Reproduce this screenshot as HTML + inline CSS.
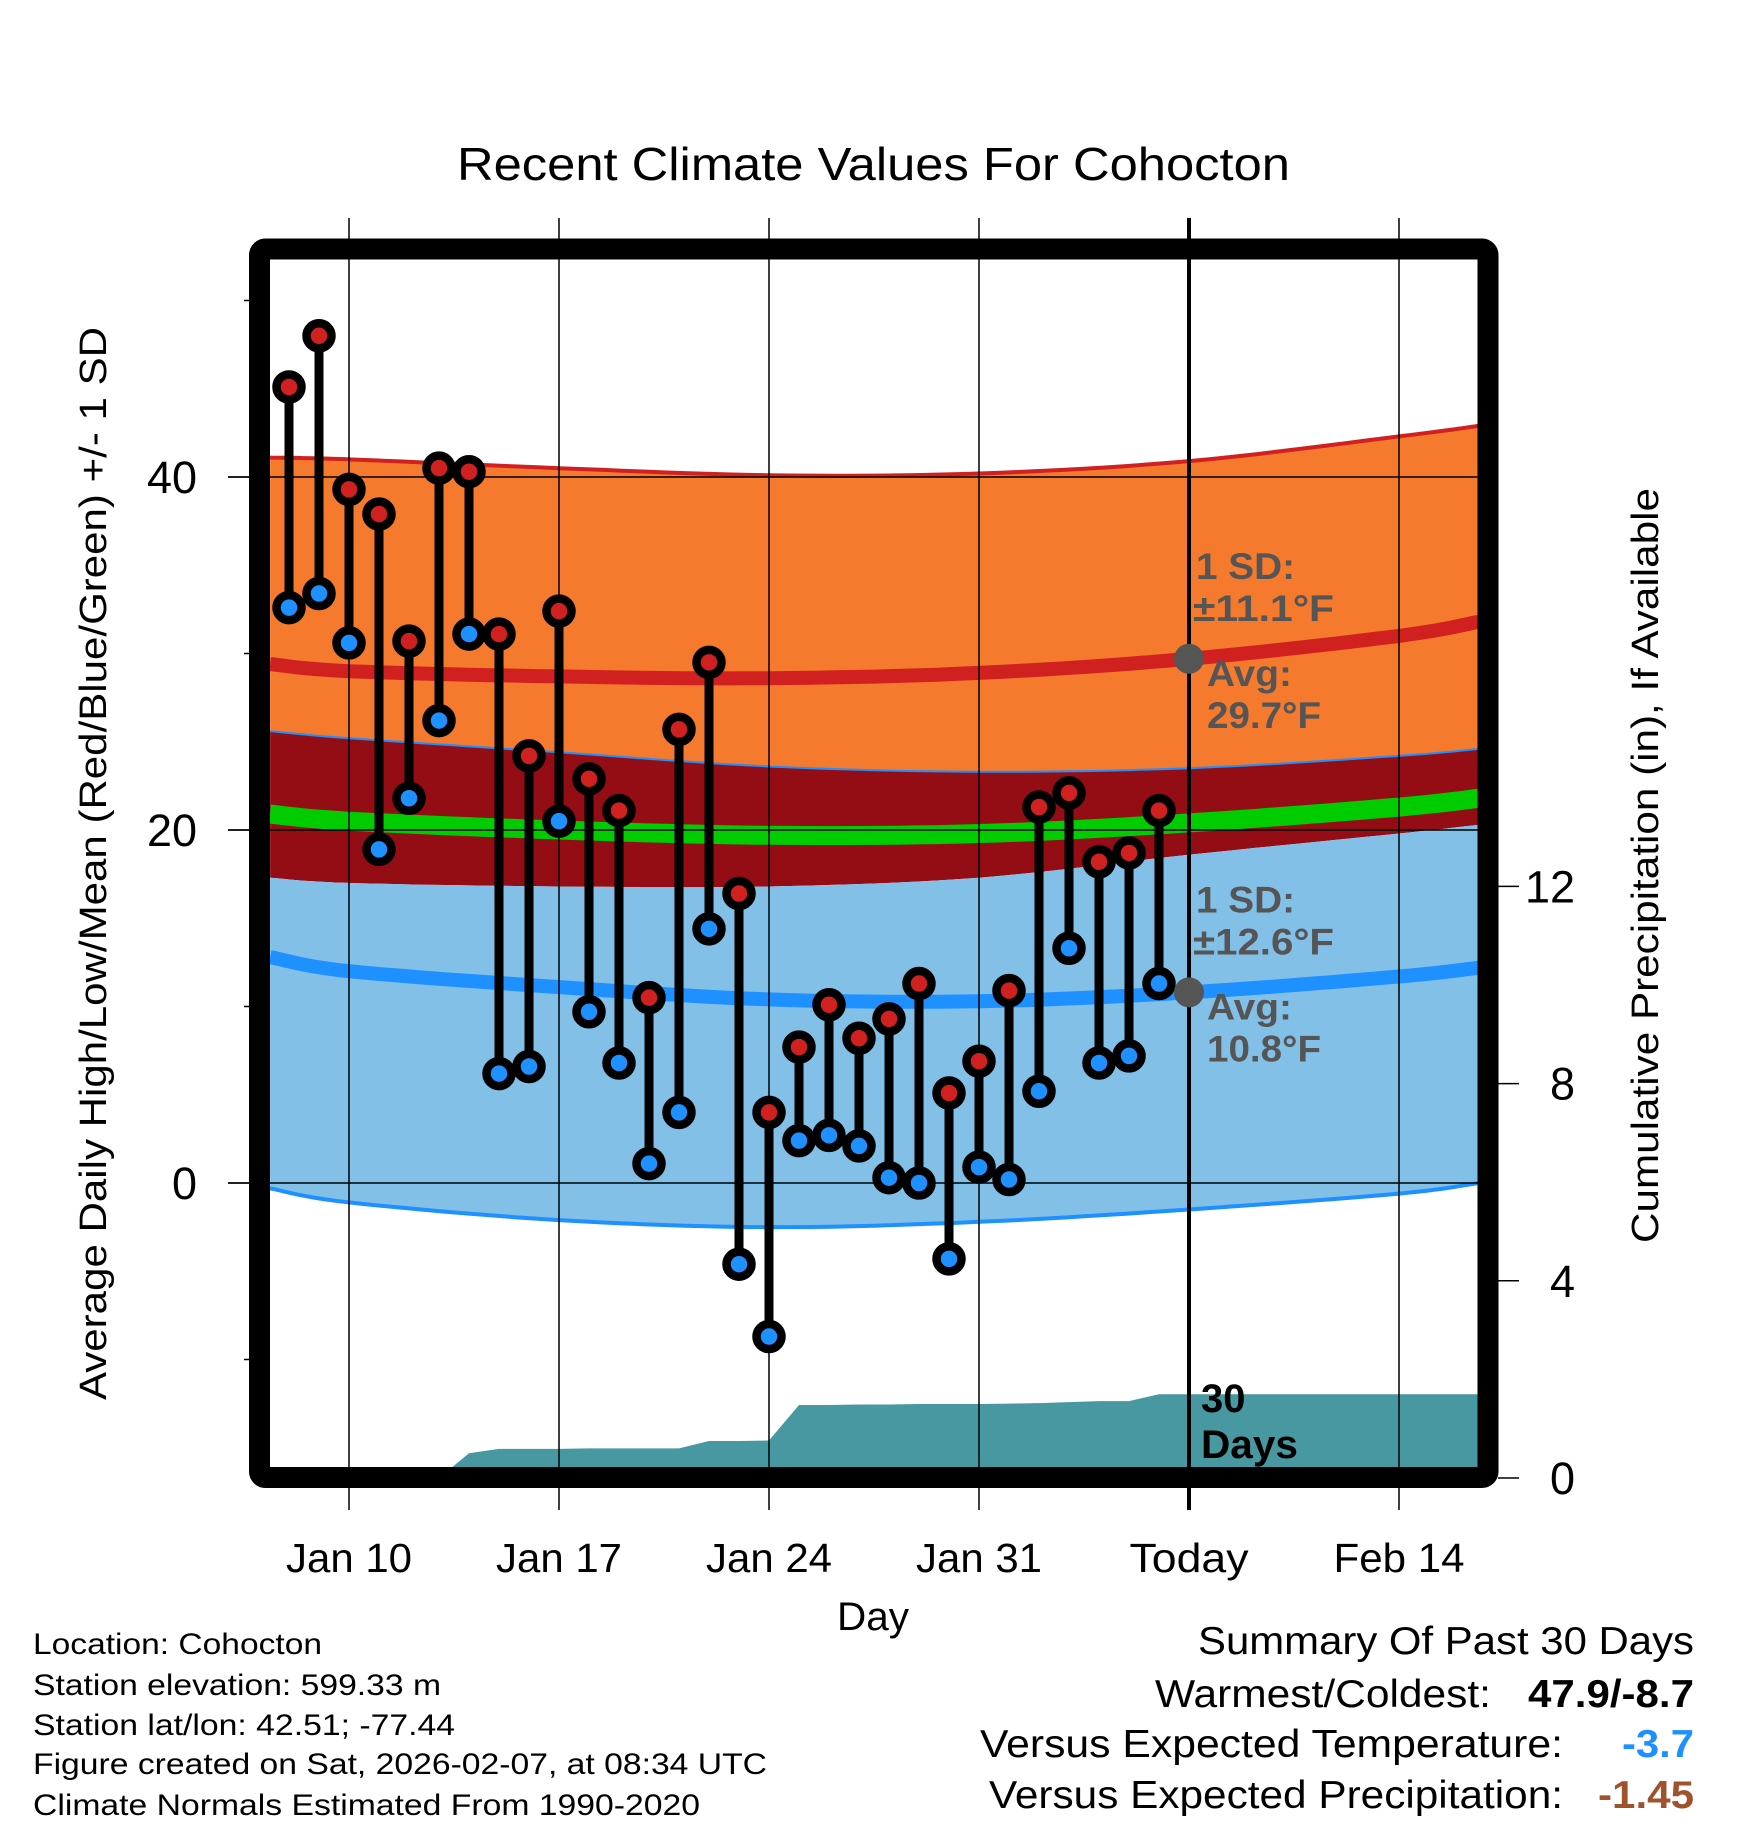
<!DOCTYPE html>
<html><head><meta charset="utf-8"><style>
html,body{margin:0;padding:0;background:#fff}
svg{display:block}
text{font-family:"Liberation Sans",Arial,sans-serif}
</style></head><body>
<svg id="chart" xmlns="http://www.w3.org/2000/svg" width="1748" height="1828" viewBox="0 0 1748 1828">
<defs><clipPath id="plotclip"><rect x="270" y="260" width="1208" height="1207"/></clipPath></defs>
<text x="457" y="180" font-size="46" textLength="833" lengthAdjust="spacingAndGlyphs">Recent Climate Values For Cohocton</text>
<g id="plot" clip-path="url(#plotclip)"></g>
<g id="overlay"></g>
<rect x="259.5" y="249" width="1228.5" height="1228.5" rx="6" fill="none" stroke="#000" stroke-width="21"/>
<g id="axes"></g>
<text transform="translate(106,1400) rotate(-90)" font-size="38" textLength="1073" lengthAdjust="spacingAndGlyphs">Average Daily High/Low/Mean (Red/Blue/Green) +/- 1 SD</text>
<text transform="translate(1658,1243) rotate(-90)" font-size="38" textLength="755" lengthAdjust="spacingAndGlyphs">Cumulative Precipitation (in), If Available</text>
<text x="837" y="1630" font-size="40" textLength="72" lengthAdjust="spacingAndGlyphs">Day</text>
<g font-size="30">
<text x="33" y="1654" textLength="289" lengthAdjust="spacingAndGlyphs">Location: Cohocton</text>
<text x="33" y="1695" textLength="408" lengthAdjust="spacingAndGlyphs">Station elevation: 599.33 m</text>
<text x="33" y="1735" textLength="422" lengthAdjust="spacingAndGlyphs">Station lat/lon: 42.51; -77.44</text>
<text x="33" y="1774" textLength="734" lengthAdjust="spacingAndGlyphs">Figure created on Sat, 2026-02-07, at 08:34 UTC</text>
<text x="33" y="1815" textLength="667" lengthAdjust="spacingAndGlyphs">Climate Normals Estimated From 1990-2020</text>
</g>
<g font-size="39">
<text x="1198" y="1654" textLength="496" lengthAdjust="spacingAndGlyphs">Summary Of Past 30 Days</text>
<text x="1155" y="1707" textLength="336" lengthAdjust="spacingAndGlyphs">Warmest/Coldest:</text>
<text x="1528" y="1707" font-weight="bold" textLength="166" lengthAdjust="spacingAndGlyphs">47.9/-8.7</text>
<text x="980" y="1757" textLength="583" lengthAdjust="spacingAndGlyphs">Versus Expected Temperature:</text>
<text x="1622" y="1757" font-weight="bold" fill="#1e90ff" textLength="72" lengthAdjust="spacingAndGlyphs">-3.7</text>
<text x="989" y="1808" textLength="574" lengthAdjust="spacingAndGlyphs">Versus Expected Precipitation:</text>
<text x="1598" y="1808" font-weight="bold" fill="#a0522d" textLength="96" lengthAdjust="spacingAndGlyphs">-1.45</text>
</g>
</svg>
<script>
// day offsets relative to Jan 10
const normDays=[-2.63,0,7,14,21,28,35,37.67];
const hiUpper=[41.1,41.0,40.5,40.1,40.2,40.9,42.3,42.9];
const hiMean=[29.4,29.0,28.7,28.6,28.9,29.7,31.0,31.8];
const orangeLower=[25.6,25.2,24.4,23.6,23.3,23.5,24.2,24.6];
const greenMean=[20.9,20.5,20.0,19.7,19.8,20.4,21.3,21.8];
const loUpper=[17.3,17.0,16.8,16.8,17.3,18.6,19.8,20.3];
const loMean=[12.8,12.0,11.1,10.4,10.3,10.8,11.7,12.2];
const loLower=[-0.3,-1.1,-2.1,-2.5,-2.2,-1.5,-0.6,0.0];
const highs=[45.1,48.0,39.3,37.9,30.7,40.5,40.3,31.1,24.2,32.4,22.9,21.1,10.5,25.7,29.5,16.4,4.0,7.7,10.1,8.2,9.3,11.3,5.1,6.9,10.9,21.3,22.1,18.2,18.7,21.1];
const lows=[32.6,33.4,30.6,18.9,21.8,26.2,31.1,6.2,6.6,20.5,9.7,6.8,1.1,4.0,14.4,-4.6,-8.7,2.4,2.7,2.1,0.3,0.0,-4.3,0.9,0.2,5.2,13.3,6.8,7.2,11.3];
const precipCum=[0,0,0,0,0,0,0.5,0.59,0.59,0.59,0.60,0.60,0.60,0.60,0.75,0.75,0.76,1.48,1.48,1.49,1.49,1.50,1.50,1.50,1.51,1.52,1.54,1.56,1.56,1.70];
const xTickDays=[0,7,14,21,28,35];
const xTickLabels=["Jan 10","Jan 17","Jan 24","Jan 31","Today","Feb 14"];
const xTickWidths=[126,126,126,126,119,131];
const yTicks=[-10,0,10,20,30,40,50];
const yLabelTicks=[0,20,40];
const pTicks=[0,4,8,12];
const hiAvgToday=29.7, loAvgToday=10.8, todayDay=28, firstDay=-2;

const X=d=>349+30*d;
const Y=v=>1183-17.65*v;
const P=v=>1478-49.3*v;
const NS="http://www.w3.org/2000/svg";
function mk(tag,attrs,parent){const e=document.createElementNS(NS,tag);for(const k in attrs)e.setAttribute(k,attrs[k]);parent.appendChild(e);return e;}
function smooth(days,vals){
  const out=[];for(let i=0;i<days.length-1;i++){
    const p0=i>0?i-1:i,p3=i+2<days.length?i+2:i+1;
    for(let t=0;t<1;t+=0.1){
      const t2=t*t,t3=t2*t;
      const f=(a,b,c,d)=>0.5*(2*b+(-a+c)*t+(2*a-5*b+4*c-d)*t2+(-a+3*b-3*c+d)*t3);
      out.push([f(days[p0],days[i],days[i+1],days[p3]),f(vals[p0],vals[i],vals[i+1],vals[p3])]);
    }}
  out.push([days[days.length-1],vals[vals.length-1]]);return out;}
function band(top,bot){const a=smooth(normDays,top),b=smooth(normDays,bot).reverse();
  return "M"+a.concat(b).map(p=>X(p[0]).toFixed(1)+","+Y(p[1]).toFixed(1)).join("L")+"Z";}
function line(vals){return "M"+smooth(normDays,vals).map(p=>X(p[0]).toFixed(1)+","+Y(p[1]).toFixed(1)).join("L");}
const plot=document.getElementById('plot'),ov=document.getElementById('overlay'),axes=document.getElementById('axes');

let e;
e=mk('path',{d:band(hiUpper,orangeLower),fill:'#f57a2e'},plot);


e=mk('path',{d:band(orangeLower,loUpper),fill:'#940d15'},plot);


e=mk('path',{d:band(loUpper,loLower),fill:'#82c0e8'},plot);


e=mk('path',{d:line(hiUpper),fill:'none',stroke:'#d02020',"stroke-width":4},plot);


e=mk('path',{d:line(orangeLower),fill:'none',stroke:'#1e90ff',"stroke-width":2},plot);


e=mk('path',{d:line(loLower),fill:'none',stroke:'#1e90ff',"stroke-width":4},plot);


e=mk('path',{d:line(greenMean),fill:'none',stroke:'#00cc00',"stroke-width":19},plot);


e=mk('path',{d:line(hiMean),fill:'none',stroke:'#d02020',"stroke-width":14},plot);


e=mk('path',{d:line(loMean),fill:'none',stroke:'#1e90ff',"stroke-width":14},plot);



let pd="M"+X(firstDay)+","+P(0);
precipCum.forEach((v,i)=>{pd+="L"+X(firstDay+i).toFixed(1)+","+P(v).toFixed(1);});
pd+="L1480,"+P(precipCum[precipCum.length-1]).toFixed(1)+"L1480,1480Z";
e=mk('path',{d:pd,fill:'#4798a0'},plot);



yLabelTicks.forEach(v=>{
  e=mk('line',{x1:228,x2:1478,y1:Y(v),y2:Y(v),stroke:'#000',"stroke-width":1.5},ov);
  
  
});
xTickDays.forEach((d,i)=>{
  e=mk('line',{x1:X(d),x2:X(d),y1:218,y2:1510,stroke:'#000',"stroke-width":d===todayDay?4:1.5},ov);
  
  
  e=mk('text',{x:X(d)-xTickWidths[i]/2,y:1572,"font-size":41,textLength:xTickWidths[i],lengthAdjust:"spacingAndGlyphs"},axes);
  e.textContent=xTickLabels[i];
  
  
});
highs.forEach((h,i)=>{
  const x=X(firstDay+i);
  e=mk('line',{x1:x,x2:x,y1:Y(h),y2:Y(lows[i]),stroke:'#000',"stroke-width":9},ov);
  
  
});
highs.forEach((h,i)=>{
  const x=X(firstDay+i);
  e=mk('circle',{cx:x,cy:Y(h),r:12.5,fill:'#d02020',stroke:'#000',"stroke-width":8.5},ov);
  
  
  e=mk('circle',{cx:x,cy:Y(lows[i]),r:12.5,fill:'#1e90ff',stroke:'#000',"stroke-width":8.5},ov);
  
  
});
[hiAvgToday,loAvgToday].forEach(v=>{
  e=mk('circle',{cx:X(todayDay),cy:Y(v),r:15,fill:'#555'},ov);
  
  
});
function ann(txt,x,y,w,name){e=mk('text',{x:x,y:y,"font-size":37,"font-weight":"bold",fill:'#555',textLength:w,lengthAdjust:"spacingAndGlyphs"},ov);e.textContent=txt;
  
  }
const tx=X(todayDay);
ann("1 SD:",tx+7,Y(hiAvgToday)-80,99,'high-sd-label');
ann("\u00b111.1\u00b0F",tx+4,Y(hiAvgToday)-38,141,'high-sd-value');
ann("Avg:",tx+18,Y(hiAvgToday)+27,85,'high-avg-label');
ann("29.7\u00b0F",tx+18,Y(hiAvgToday)+69,114,'high-avg-value');
ann("1 SD:",tx+7,Y(loAvgToday)-80,99,'low-sd-label');
ann("\u00b112.6\u00b0F",tx+4,Y(loAvgToday)-38,141,'low-sd-value');
ann("Avg:",tx+18,Y(loAvgToday)+27,85,'low-avg-label');
ann("10.8\u00b0F",tx+18,Y(loAvgToday)+69,114,'low-avg-value');
e=mk('text',{x:tx+12,y:1412,"font-size":40,"font-weight":"bold"},ov);e.textContent="30";


e=mk('text',{x:tx+12,y:1458,"font-size":40,"font-weight":"bold",textLength:97,lengthAdjust:"spacingAndGlyphs"},ov);e.textContent="Days";



yTicks.forEach(v=>{
  e=mk('line',{x1:yLabelTicks.includes(v)?228:244,x2:250,y1:Y(v),y2:Y(v),stroke:'#000',"stroke-width":1.5},axes);
  
  
});
yLabelTicks.forEach(v=>{
  e=mk('text',{x:197,y:Y(v)+16,"font-size":45,"text-anchor":"end"},axes);e.textContent=v;
  
  
});
pTicks.forEach(v=>{
  e=mk('line',{x1:1498,x2:1519,y1:P(v),y2:P(v),stroke:'#000',"stroke-width":1.5},axes);
  
  
  e=mk('text',{x:1575,y:P(v)+16,"font-size":45,"text-anchor":"end"},axes);e.textContent=v;
  
  
});
</script>
</body></html>
